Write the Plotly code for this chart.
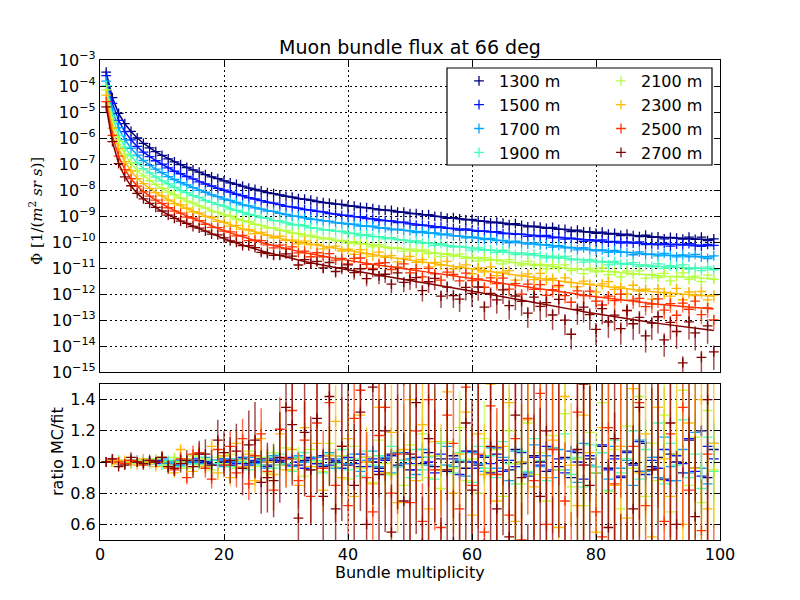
import plotly.graph_objects as go

multiplicity = list(range(1, 100))
depth_labels = ["1300 m", "1500 m", "1700 m", "1900 m", "2100 m", "2300 m", "2500 m", "2700 m"]
colors = ["#000080", "#0012ff", "#00a4ff", "#41ffb6", "#b6ff41", "#ffb900", "#ff3200", "#800000"]

# log10 of fitted flux [1/(m^2 sr s)] at multiplicity 1..99
log_fit_1300 = [-3.47,-4.45,-5.05,-5.45,-5.75,-6.00,-6.20,-6.38,-6.53,-6.67,
    -6.80,-6.92,-7.03,-7.13,-7.23,-7.32,-7.41,-7.49,-7.57,-7.65,
    -7.72,-7.79,-7.86,-7.92,-7.98,-8.04,-8.09,-8.14,-8.19,-8.24,
    -8.28,-8.32,-8.36,-8.40,-8.44,-8.47,-8.51,-8.54,-8.57,-8.60,
    -8.63,-8.66,-8.69,-8.72,-8.75,-8.78,-8.81,-8.84,-8.86,-8.89,
    -8.92,-8.95,-8.97,-9.00,-9.03,-9.06,-9.08,-9.11,-9.13,-9.16,
    -9.18,-9.21,-9.23,-9.26,-9.28,-9.31,-9.33,-9.36,-9.38,-9.41,
    -9.43,-9.45,-9.48,-9.50,-9.53,-9.55,-9.57,-9.60,-9.62,-9.64,
    -9.66,-9.68,-9.69,-9.71,-9.73,-9.75,-9.77,-9.79,-9.81,-9.82,
    -9.83,-9.84,-9.85,-9.86,-9.87,-9.88,-9.89,-9.90,-9.91]
log_fit_1500 = [-3.60,-4.67,-5.32,-5.75,-6.07,-6.33,-6.54,-6.72,-6.87,-7.01,
    -7.15,-7.27,-7.38,-7.48,-7.58,-7.68,-7.77,-7.85,-7.93,-8.01,
    -8.08,-8.16,-8.23,-8.29,-8.35,-8.41,-8.46,-8.51,-8.57,-8.62,
    -8.66,-8.70,-8.74,-8.78,-8.82,-8.86,-8.90,-8.93,-8.96,-8.99,
    -9.02,-9.05,-9.09,-9.12,-9.15,-9.18,-9.21,-9.24,-9.26,-9.30,
    -9.33,-9.36,-9.38,-9.41,-9.44,-9.47,-9.49,-9.51,-9.53,-9.55,
    -9.57,-9.59,-9.61,-9.64,-9.65,-9.68,-9.69,-9.72,-9.74,-9.76,
    -9.78,-9.79,-9.82,-9.83,-9.86,-9.88,-9.89,-9.92,-9.93,-9.95,
    -9.96,-9.98,-9.99,-10.00,-10.02,-10.03,-10.05,-10.06,-10.08,-10.09,
    -10.09,-10.10,-10.10,-10.11,-10.12,-10.12,-10.13,-10.13,-10.14]
log_fit_1700 = [-3.81,-4.93,-5.61,-6.06,-6.39,-6.66,-6.87,-7.05,-7.20,-7.34,
    -7.48,-7.60,-7.71,-7.81,-7.91,-8.01,-8.10,-8.18,-8.26,-8.34,
    -8.41,-8.48,-8.56,-8.62,-8.68,-8.74,-8.79,-8.84,-8.89,-8.95,
    -8.99,-9.03,-9.07,-9.11,-9.15,-9.18,-9.22,-9.25,-9.28,-9.31,
    -9.33,-9.36,-9.39,-9.42,-9.45,-9.47,-9.50,-9.53,-9.55,-9.58,
    -9.60,-9.63,-9.65,-9.67,-9.70,-9.73,-9.75,-9.78,-9.80,-9.83,
    -9.85,-9.88,-9.90,-9.93,-9.95,-9.98,-10.00,-10.03,-10.05,-10.08,
    -10.10,-10.12,-10.15,-10.17,-10.20,-10.22,-10.24,-10.27,-10.29,-10.31,
    -10.33,-10.35,-10.36,-10.38,-10.40,-10.42,-10.44,-10.46,-10.48,-10.49,
    -10.50,-10.51,-10.52,-10.53,-10.54,-10.55,-10.56,-10.57,-10.58]
log_fit_1900 = [-3.99,-5.17,-5.89,-6.35,-6.69,-6.96,-7.17,-7.35,-7.50,-7.64,
    -7.77,-7.90,-8.01,-8.11,-8.21,-8.30,-8.39,-8.48,-8.56,-8.64,
    -8.72,-8.79,-8.86,-8.92,-8.99,-9.05,-9.10,-9.16,-9.21,-9.26,
    -9.31,-9.35,-9.39,-9.44,-9.48,-9.51,-9.55,-9.59,-9.62,-9.65,
    -9.68,-9.71,-9.75,-9.78,-9.81,-9.84,-9.87,-9.90,-9.93,-9.96,
    -9.99,-10.02,-10.05,-10.08,-10.11,-10.14,-10.16,-10.19,-10.21,-10.25,
    -10.27,-10.30,-10.32,-10.35,-10.37,-10.40,-10.42,-10.45,-10.47,-10.51,
    -10.53,-10.55,-10.58,-10.60,-10.63,-10.65,-10.67,-10.70,-10.72,-10.75,
    -10.77,-10.79,-10.80,-10.82,-10.85,-10.87,-10.89,-10.91,-10.93,-10.94,
    -10.95,-10.96,-10.97,-10.98,-11.00,-11.01,-11.02,-11.03,-11.04]
log_fit_2100 = [-4.15,-5.38,-6.13,-6.62,-6.97,-7.25,-7.46,-7.64,-7.79,-7.94,
    -8.07,-8.19,-8.31,-8.41,-8.51,-8.61,-8.70,-8.79,-8.87,-8.95,
    -9.03,-9.10,-9.18,-9.24,-9.31,-9.37,-9.43,-9.48,-9.54,-9.60,
    -9.64,-9.69,-9.73,-9.78,-9.82,-9.85,-9.90,-9.93,-9.96,-10.00,
    -10.03,-10.06,-10.10,-10.13,-10.16,-10.19,-10.22,-10.26,-10.28,-10.32,
    -10.35,-10.38,-10.40,-10.44,-10.47,-10.50,-10.52,-10.55,-10.57,-10.61,
    -10.63,-10.66,-10.68,-10.71,-10.73,-10.76,-10.79,-10.82,-10.84,-10.87,
    -10.89,-10.91,-10.94,-10.97,-11.00,-11.02,-11.04,-11.07,-11.09,-11.12,
    -11.14,-11.16,-11.17,-11.19,-11.21,-11.23,-11.26,-11.28,-11.30,-11.31,
    -11.32,-11.33,-11.34,-11.35,-11.37,-11.38,-11.39,-11.40,-11.41]
log_fit_2300 = [-4.35,-5.63,-6.41,-6.91,-7.27,-7.55,-7.76,-7.94,-8.09,-8.24,
    -8.37,-8.49,-8.61,-8.71,-8.81,-8.91,-9.00,-9.09,-9.17,-9.26,
    -9.34,-9.41,-9.49,-9.55,-9.62,-9.69,-9.74,-9.80,-9.85,-9.91,
    -9.96,-10.00,-10.05,-10.09,-10.14,-10.18,-10.22,-10.26,-10.30,-10.34,
    -10.37,-10.41,-10.45,-10.48,-10.52,-10.56,-10.60,-10.63,-10.66,-10.70,
    -10.73,-10.77,-10.80,-10.84,-10.87,-10.91,-10.94,-10.98,-11.00,-11.04,
    -11.07,-11.11,-11.13,-11.17,-11.20,-11.24,-11.26,-11.30,-11.33,-11.37,
    -11.40,-11.42,-11.46,-11.49,-11.53,-11.55,-11.58,-11.62,-11.65,-11.67,
    -11.70,-11.73,-11.75,-11.77,-11.80,-11.83,-11.86,-11.89,-11.91,-11.93,
    -11.95,-11.97,-11.98,-12.00,-12.02,-12.04,-12.05,-12.07,-12.09]
log_fit_2500 = [-4.60,-5.91,-6.70,-7.21,-7.57,-7.85,-8.06,-8.24,-8.39,-8.53,
    -8.67,-8.79,-8.90,-9.00,-9.10,-9.20,-9.30,-9.39,-9.48,-9.57,
    -9.65,-9.73,-9.81,-9.88,-9.95,-10.02,-10.08,-10.14,-10.20,-10.26,
    -10.31,-10.36,-10.41,-10.46,-10.51,-10.55,-10.59,-10.63,-10.67,-10.70,
    -10.74,-10.78,-10.81,-10.85,-10.89,-10.92,-10.96,-10.99,-11.02,-11.06,
    -11.10,-11.13,-11.16,-11.20,-11.23,-11.27,-11.30,-11.34,-11.37,-11.41,
    -11.44,-11.48,-11.51,-11.56,-11.59,-11.63,-11.66,-11.70,-11.73,-11.77,
    -11.80,-11.83,-11.87,-11.90,-11.94,-11.97,-12.00,-12.05,-12.08,-12.11,
    -12.14,-12.17,-12.19,-12.22,-12.25,-12.28,-12.31,-12.34,-12.37,-12.39,
    -12.41,-12.44,-12.46,-12.48,-12.50,-12.52,-12.54,-12.56,-12.58]
log_fit_2700 = [-4.80,-6.15,-6.97,-7.49,-7.85,-8.13,-8.34,-8.52,-8.67,-8.82,
    -8.95,-9.07,-9.19,-9.29,-9.39,-9.49,-9.60,-9.69,-9.78,-9.87,
    -9.96,-10.04,-10.12,-10.19,-10.27,-10.34,-10.40,-10.46,-10.53,-10.59,
    -10.64,-10.69,-10.75,-10.80,-10.85,-10.89,-10.94,-10.98,-11.03,-11.07,
    -11.11,-11.15,-11.19,-11.23,-11.27,-11.32,-11.36,-11.40,-11.43,-11.47,
    -11.51,-11.55,-11.59,-11.63,-11.67,-11.71,-11.75,-11.80,-11.84,-11.89,
    -11.93,-11.98,-12.02,-12.07,-12.11,-12.16,-12.19,-12.24,-12.28,-12.33,
    -12.37,-12.41,-12.46,-12.50,-12.55,-12.59,-12.63,-12.68,-12.72,-12.76,
    -12.80,-12.84,-12.87,-12.91,-12.95,-12.99,-13.03,-13.06,-13.10,-13.13,
    -13.16,-13.19,-13.22,-13.25,-13.28,-13.31,-13.34,-13.37,-13.40]

# MC / fit ratio at multiplicity 1..99
ratio_1300 = [1.00,1.00,0.99,1.00,1.01,1.00,0.99,1.00,1.01,1.00,
    0.99,1.00,1.01,0.99,1.00,1.01,1.00,0.99,1.01,1.00,
    0.98,1.01,1.02,0.99,1.00,1.02,0.98,1.01,1.00,0.99,
    1.02,0.98,1.01,1.03,0.99,0.97,1.02,1.00,1.04,0.98,
    1.01,0.97,1.03,1.00,0.96,1.02,1.05,0.98,1.01,0.95,
    1.03,0.99,1.06,0.97,1.02,0.94,1.04,1.00,0.96,1.07,
    0.98,1.03,0.93,1.05,1.01,0.95,1.08,0.99,0.92,1.04,
    1.00,0.94,1.09,0.97,1.03,0.90,1.06,0.98,1.02,0.93,
    1.10,0.96,1.04,0.91,1.07,0.99,0.94,1.12,0.97,1.03,
    0.89,1.05,1.00,0.93,1.14,0.96,1.20,0.90,1.08]
ratio_1500 = [1.00,1.01,1.00,0.99,1.00,1.01,1.00,1.00,0.99,1.01,
    1.00,0.98,1.01,1.00,1.02,0.99,1.00,1.01,0.98,1.02,
    1.00,0.99,1.03,0.98,1.01,1.00,0.97,1.02,1.01,0.98,
    1.03,1.00,0.96,1.02,0.99,1.04,0.98,1.01,0.96,1.03,
    0.99,1.05,0.97,1.02,0.94,1.01,1.04,0.97,1.06,0.99,
    0.95,1.03,1.00,0.93,1.05,0.98,1.02,0.92,1.07,1.00,
    0.96,1.04,0.99,1.09,0.94,1.01,0.97,1.06,0.91,1.03,
    0.98,1.10,0.95,1.02,0.93,1.07,1.00,0.89,1.04,0.97,
    1.11,0.95,1.02,0.90,1.06,0.98,1.13,0.92,1.01,0.96,
    1.08,0.88,1.04,0.99,1.15,0.94,0.91,1.10,1.02]
ratio_1700 = [1.00,1.00,1.01,1.00,0.99,1.00,1.01,0.99,1.00,1.02,
    0.99,1.01,0.98,1.02,1.00,0.99,1.03,0.98,1.01,0.97,
    1.02,1.00,0.97,1.03,0.99,1.01,0.96,1.04,0.98,1.02,
    0.97,1.04,1.00,0.95,1.03,0.98,1.06,0.96,1.02,0.99,
    1.05,0.94,1.01,1.07,0.97,1.03,0.93,1.06,0.99,1.02,
    0.92,1.08,0.98,1.04,0.95,1.10,0.97,1.01,0.91,1.06,
    0.99,0.94,1.09,0.96,1.03,0.88,1.07,1.00,0.93,1.11,
    0.97,1.04,0.90,1.08,0.95,1.02,0.87,1.12,0.98,0.93,
    1.06,0.89,1.10,0.96,1.01,0.85,1.14,0.94,1.03,0.90,
    1.16,0.97,0.88,1.08,0.93,1.19,0.96,0.86,1.12]
ratio_1900 = [1.00,1.01,1.00,0.99,1.01,1.00,0.99,1.02,1.00,0.98,
    1.01,1.00,0.97,1.02,0.99,1.03,0.97,1.01,0.99,1.04,
    0.97,1.02,1.00,0.95,1.04,0.98,1.03,0.96,1.05,0.99,
    0.94,1.03,1.06,0.97,1.01,0.93,1.05,0.99,1.08,0.95,
    1.02,0.91,1.07,0.98,1.04,0.92,1.10,0.97,1.01,0.90,
    1.08,0.95,1.03,0.89,1.12,0.98,0.93,1.06,1.01,0.87,
    1.10,0.96,1.04,0.90,1.13,0.99,0.86,1.07,0.94,1.15,
    1.01,0.88,1.09,0.95,1.18,0.92,1.03,0.84,1.11,0.97,
    1.06,0.82,1.14,0.93,1.02,1.20,0.89,1.08,0.95,1.25,
    0.86,1.12,0.98,1.27,0.90,1.05,0.83,1.16,0.94]
ratio_2100 = [1.00,1.00,1.01,1.00,0.99,1.01,1.00,0.99,1.02,1.00,
    0.98,1.03,1.00,0.96,1.04,0.98,1.02,0.95,1.03,0.99,
    1.05,0.96,1.01,1.07,0.97,1.03,0.93,1.06,0.98,1.09,
    0.95,1.02,0.91,1.08,1.00,0.94,1.12,0.97,1.04,0.89,
    1.10,0.96,1.03,0.87,1.14,0.99,0.92,1.07,0.85,1.11,
    0.98,1.18,0.90,1.04,0.83,1.13,0.96,1.22,0.88,1.02,
    0.80,1.15,0.94,1.08,0.78,1.20,0.99,0.86,1.25,0.92,
    1.06,0.75,1.17,0.95,1.31,0.84,1.02,0.72,1.19,0.93,
    1.38,0.81,1.08,0.70,1.23,0.96,1.42,0.78,1.12,0.88,
    1.30,0.68,1.05,1.46,0.85,1.16,0.74,1.33,0.95]
ratio_2300 = [1.00,1.01,0.99,1.01,1.00,0.98,1.02,1.00,0.97,1.03,
    0.96,0.93,1.08,1.02,0.94,1.06,0.97,1.10,0.93,1.04,
    0.90,1.12,0.97,1.05,0.88,1.15,1.00,0.92,1.18,0.95,
    1.08,0.85,1.22,0.97,1.12,0.82,1.04,1.26,0.90,1.15,
    0.78,1.30,1.00,0.86,1.35,0.93,1.19,0.74,1.08,1.40,
    0.88,1.24,0.70,1.13,0.95,1.45,0.80,1.05,1.32,0.66,
    1.18,0.92,1.50,0.75,1.10,1.38,0.62,1.00,1.27,0.84,
    1.55,0.90,1.14,0.58,1.42,0.98,0.72,1.30,1.06,0.55,
    1.22,1.60,0.85,1.10,0.64,1.47,0.93,1.18,0.52,1.35,
    1.02,0.78,1.58,0.60,1.25,0.96,1.40,0.70,1.12]
ratio_2500 = [1.00,1.02,1.00,0.99,1.01,1.00,0.98,1.01,1.00,1.03,
    0.97,0.95,1.02,0.90,1.05,1.06,0.96,0.89,1.08,0.98,
    1.10,0.93,1.15,0.86,1.04,1.18,0.94,0.82,1.21,1.02,
    1.33,0.88,1.14,0.78,1.25,0.96,1.38,0.85,1.10,0.72,
    1.28,1.46,0.90,0.68,1.17,1.35,0.80,1.05,1.52,0.74,
    1.20,0.62,1.40,0.95,0.58,1.30,1.12,0.70,1.48,0.85,
    1.05,0.55,1.36,0.92,1.60,0.66,1.15,0.50,1.28,0.88,
    1.44,0.60,1.08,1.70,0.75,0.45,1.32,0.98,1.55,0.68,
    0.52,1.22,0.86,1.65,0.40,1.10,1.38,0.72,0.95,1.58,
    0.62,1.18,0.44,1.35,0.82,1.75,0.56,1.05,0.38]
ratio_2700 = [1.00,1.02,0.97,0.98,1.03,1.00,0.99,1.01,1.00,1.03,
    0.97,0.96,0.99,1.01,0.97,1.05,1.05,0.98,1.14,1.06,
    1.01,1.07,0.96,1.11,1.14,0.87,0.90,0.88,1.03,1.35,
    1.24,0.64,1.19,0.95,1.28,0.78,1.42,0.70,1.10,1.55,
    0.85,1.32,0.60,1.48,0.92,1.20,0.55,1.62,0.75,1.05,
    1.38,0.48,1.15,1.70,0.39,0.95,0.49,0.40,1.25,0.82,
    1.58,0.30,1.10,0.70,1.85,0.52,1.30,0.90,0.35,1.62,
    0.78,1.20,0.45,1.95,0.35,0.11,1.08,1.50,0.85,0.25,
    1.72,0.58,1.15,0.38,2.10,0.70,1.35,0.28,0.95,1.80,
    0.25,1.25,0.60,0.04,1.60,0.65,0.08,1.40,0.15]

# relative statistical uncertainty of the MC points
relerr_1300 = [.002,.002,.003,.003,.003,.003,.004,.004,.004,.004,
    .004,.005,.005,.005,.005,.005,.006,.006,.006,.006,
    .006,.007,.007,.007,.007,.008,.008,.008,.008,.009,
    .009,.009,.009,.010,.010,.010,.010,.011,.011,.011,
    .011,.012,.012,.012,.012,.013,.013,.013,.013,.014,
    .014,.014,.015,.015,.015,.015,.016,.016,.016,.017,
    .017,.017,.018,.018,.018,.019,.019,.019,.020,.020,
    .020,.021,.021,.021,.022,.022,.022,.023,.023,.023,
    .024,.024,.024,.025,.025,.025,.026,.026,.026,.027,
    .027,.027,.028,.028,.028,.029,.029,.030,.030]
relerr_1500 = [.003,.003,.004,.004,.004,.005,.005,.005,.006,.006,
    .006,.007,.007,.007,.008,.008,.008,.009,.009,.009,
    .010,.010,.010,.011,.011,.011,.012,.012,.012,.013,
    .013,.013,.014,.014,.014,.015,.015,.015,.016,.016,
    .016,.017,.017,.018,.018,.018,.019,.019,.020,.020,
    .020,.021,.021,.022,.022,.022,.023,.023,.024,.024,
    .025,.025,.025,.026,.026,.027,.027,.028,.028,.029,
    .029,.030,.030,.031,.031,.032,.032,.033,.033,.034,
    .034,.035,.035,.036,.036,.037,.037,.038,.038,.039,
    .039,.040,.040,.041,.041,.042,.043,.043,.044]
relerr_1700 = [.002,.003,.003,.004,.004,.005,.005,.005,.006,.006,
    .007,.007,.008,.008,.009,.009,.010,.010,.011,.012,
    .012,.013,.014,.014,.015,.016,.017,.018,.019,.020,
    .021,.022,.023,.024,.025,.026,.027,.028,.029,.030,
    .031,.032,.033,.034,.035,.036,.037,.038,.039,.040,
    .041,.042,.043,.044,.045,.046,.047,.048,.049,.050,
    .052,.053,.055,.056,.058,.059,.061,.062,.064,.065,
    .067,.068,.070,.071,.073,.074,.076,.077,.079,.080,
    .082,.083,.085,.086,.088,.089,.091,.092,.094,.095,
    .097,.098,.100,.101,.103,.104,.106,.108,.110]
relerr_1900 = [.002,.003,.003,.004,.005,.006,.007,.008,.009,.010,
    .011,.012,.013,.014,.015,.016,.017,.019,.020,.022,
    .023,.024,.025,.026,.028,.029,.030,.032,.033,.035,
    .037,.039,.041,.043,.045,.047,.049,.051,.053,.055,
    .057,.059,.061,.063,.065,.067,.069,.071,.073,.075,
    .078,.080,.083,.085,.088,.090,.093,.095,.098,.100,
    .103,.105,.108,.110,.113,.115,.118,.120,.123,.125,
    .128,.130,.133,.135,.138,.140,.143,.145,.148,.150,
    .153,.155,.158,.160,.163,.165,.168,.170,.173,.175,
    .178,.180,.183,.185,.188,.190,.193,.196,.200]
relerr_2100 = [.003,.004,.005,.006,.007,.008,.009,.011,.013,.015,
    .017,.019,.021,.023,.025,.027,.029,.031,.033,.035,
    .038,.042,.045,.049,.052,.056,.059,.063,.066,.070,
    .074,.078,.082,.086,.090,.094,.098,.102,.106,.110,
    .115,.120,.125,.130,.135,.140,.145,.150,.155,.160,
    .164,.168,.172,.176,.180,.184,.188,.192,.196,.200,
    .204,.208,.212,.216,.220,.224,.228,.232,.236,.240,
    .244,.248,.252,.256,.260,.264,.268,.272,.276,.280,
    .284,.288,.292,.296,.300,.304,.308,.312,.316,.320,
    .324,.328,.332,.336,.340,.343,.346,.348,.350]
relerr_2300 = [.004,.005,.006,.007,.009,.010,.012,.014,.017,.020,
    .023,.026,.029,.032,.035,.039,.043,.047,.051,.055,
    .061,.068,.074,.081,.087,.094,.100,.107,.113,.120,
    .128,.136,.144,.152,.160,.168,.176,.184,.192,.200,
    .208,.216,.224,.232,.240,.248,.256,.264,.272,.280,
    .286,.292,.298,.304,.310,.316,.322,.328,.334,.340,
    .344,.348,.352,.356,.360,.364,.368,.372,.376,.380,
    .384,.388,.392,.396,.400,.404,.408,.412,.416,.420,
    .423,.426,.429,.432,.435,.438,.441,.444,.447,.450,
    .453,.456,.459,.462,.465,.468,.472,.476,.480]
relerr_2500 = [.004,.006,.007,.009,.011,.013,.016,.019,.024,.030,
    .034,.038,.043,.048,.053,.058,.063,.068,.074,.080,
    .090,.100,.110,.120,.130,.140,.150,.160,.170,.180,
    .192,.204,.216,.228,.240,.252,.264,.276,.288,.300,
    .308,.316,.324,.332,.340,.348,.356,.364,.372,.380,
    .387,.394,.401,.408,.415,.422,.429,.436,.443,.450,
    .454,.457,.461,.464,.468,.471,.475,.478,.482,.485,
    .489,.492,.496,.499,.503,.506,.510,.513,.517,.520,
    .523,.526,.530,.533,.536,.540,.543,.546,.550,.553,
    .556,.560,.563,.566,.570,.573,.576,.578,.580]
relerr_2700 = [.005,.006,.008,.010,.013,.016,.020,.025,.032,.040,
    .046,.052,.059,.066,.074,.082,.091,.100,.115,.130,
    .147,.164,.181,.198,.215,.232,.249,.266,.283,.300,
    .315,.330,.345,.360,.375,.390,.405,.420,.435,.450,
    .465,.480,.495,.510,.525,.540,.555,.570,.585,.600,
    .610,.620,.630,.640,.650,.660,.670,.680,.690,.700,
    .703,.705,.708,.710,.713,.715,.718,.720,.723,.725,
    .728,.730,.733,.735,.738,.740,.743,.745,.748,.750,
    .753,.755,.758,.760,.763,.765,.768,.770,.773,.775,
    .778,.780,.783,.785,.788,.790,.793,.796,.800]

fits = [log_fit_1300, log_fit_1500, log_fit_1700, log_fit_1900,
        log_fit_2100, log_fit_2300, log_fit_2500, log_fit_2700]
ratios = [ratio_1300, ratio_1500, ratio_1700, ratio_1900,
          ratio_2100, ratio_2300, ratio_2500, ratio_2700]
relerrs = [relerr_1300, relerr_1500, relerr_1700, relerr_1900,
           relerr_2100, relerr_2300, relerr_2500, relerr_2700]


def rgba(hexcol, a):
    h = hexcol.lstrip("#")
    return "rgba(%d,%d,%d,%.2f)" % (int(h[0:2], 16), int(h[2:4], 16), int(h[4:6], 16), a)


FONT = "DejaVu Sans"
fig = go.Figure()

for i, lab in enumerate(depth_labels):
    col = colors[i]
    fit = [10 ** v for v in fits[i]]
    mc = [f * r for f, r in zip(fit, ratios[i])]
    err_top = [m * e for m, e in zip(mc, relerrs[i])]
    err_ratio = [r * e for r, e in zip(ratios[i], relerrs[i])]
    marker = dict(symbol="cross-thin", size=7, color=col, line=dict(color=col, width=1.3))
    ebar_top = dict(type="data", array=err_top, arrayminus=err_top, visible=True,
                    color=rgba(col, 0.7), thickness=1.5, width=0)
    ebar_rat = dict(type="data", array=err_ratio, arrayminus=err_ratio, visible=True,
                    color=rgba(col, 0.7), thickness=1.5, width=0)
    # top panel: MC points
    fig.add_trace(go.Scatter(
        x=multiplicity, y=mc, mode="markers", marker=marker, error_y=ebar_top,
        name=lab, legend="legend" if i < 4 else "legend2",
        xaxis="x", yaxis="y"))
    # top panel: fit curve
    fig.add_trace(go.Scatter(
        x=multiplicity, y=fit, mode="lines", line=dict(color=col, width=1.5),
        showlegend=False, xaxis="x", yaxis="y"))
    # bottom panel: ratio
    fig.add_trace(go.Scatter(
        x=multiplicity, y=ratios[i], mode="markers", marker=marker, error_y=ebar_rat,
        showlegend=False, xaxis="x2", yaxis="y2"))

axis_common = dict(showline=True, linecolor="black", linewidth=1.2, mirror="ticks",
                   ticks="inside", ticklen=6, tickcolor="black", tickwidth=1,
                   showgrid=True, gridcolor="black", griddash="1.5px,3.5px", gridwidth=1,
                   zeroline=False, automargin=False,
                   tickfont=dict(family=FONT, size=16, color="black"))

flux_exponents = list(range(-15, -2))
flux_tickvals = [10.0 ** e for e in flux_exponents]
flux_ticktext = ["10<sup>%s</sup>" % str(e).replace("-", "\u2212") for e in flux_exponents]

x_ticks = [0, 20, 40, 60, 80, 100]
ratio_ticks = [0.6, 0.8, 1.0, 1.2, 1.4]

# the page shows the figure 8 px right of and below the window corner
OFF = 8
W, H = 800, 600
ML, MR, MT, MB = 100 - OFF, 80 + OFF, 60 - OFF, 60 + OFF
PW, PH = W - ML - MR, H - MT - MB


def px_x(p):
    return (p - OFF - ML) / PW


def px_y(p):
    return (H - MB - (p - OFF)) / PH


fig.update_layout(
    width=W, height=H,
    margin=dict(l=ML, r=MR, t=MT, b=MB, autoexpand=False),
    paper_bgcolor="white", plot_bgcolor="white",
    font=dict(family=FONT, color="black"),
    title=dict(text="Muon bundle flux at 66 deg", x=0.5, xref="paper", xanchor="center",
               y=1 - (47 - OFF) / H, yref="container", yanchor="middle",
               font=dict(family=FONT, size=19, color="black")),
    xaxis=dict(axis_common, range=[0, 100], tickvals=x_ticks, showticklabels=False,
               anchor="y", matches="x2"),
    yaxis=dict(axis_common, type="log", range=[-15, -3], tickvals=flux_tickvals,
               ticktext=flux_ticktext, domain=[px_y(372), 1.0], anchor="x"),
    xaxis2=dict(axis_common, range=[0, 100], tickvals=x_ticks,
                ticktext=[str(v) for v in x_ticks], anchor="y2"),
    yaxis2=dict(axis_common, range=[0.5, 1.5], tickvals=ratio_ticks,
                ticktext=["%.1f" % v for v in ratio_ticks], domain=[0.0, px_y(384)],
                anchor="x2"),
    legend=dict(x=px_x(459), y=px_y(64), xanchor="left", yanchor="top",
                bgcolor="rgba(0,0,0,0)", borderwidth=0, tracegroupgap=0,
                font=dict(family=FONT, size=16, color="black")),
    legend2=dict(x=px_x(601), y=px_y(64), xanchor="left", yanchor="top",
                 bgcolor="rgba(0,0,0,0)", borderwidth=0, tracegroupgap=0,
                 font=dict(family=FONT, size=16, color="black")),
    shapes=[dict(type="rect", xref="paper", yref="paper",
                 x0=px_x(447), x1=px_x(712), y0=px_y(165), y1=px_y(68),
                 fillcolor="white", line=dict(color="black", width=1.2), layer="above")],
    annotations=[
        dict(text="\u03a6 [1/(<i>m</i><sup>2</sup> <i>sr</i> <i>s</i>)]", textangle=-90,
             xref="paper", yref="paper", x=px_x(36), y=px_y(211), xanchor="center",
             yanchor="middle", showarrow=False,
             font=dict(family="DejaVu Serif", size=15, color="black")),
        dict(text="ratio MC/fit", textangle=-90, xref="paper", yref="paper",
             x=px_x(57), y=px_y(452), xanchor="center", yanchor="middle", showarrow=False,
             font=dict(family=FONT, size=16, color="black")),
        dict(text="Bundle multiplicity", xref="paper", yref="paper",
             x=0.5, y=px_y(572), xanchor="center", yanchor="middle", showarrow=False,
             font=dict(family=FONT, size=16, color="black")),
    ],
)

fig.write_html("out.html")
